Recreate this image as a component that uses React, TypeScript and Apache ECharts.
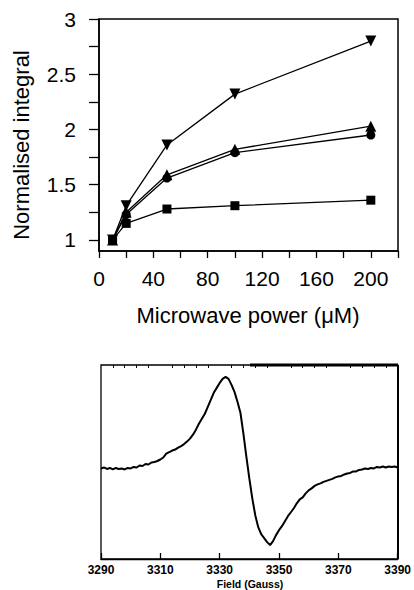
import React, { useEffect, useRef } from "react";
import * as echarts from "echarts";

// ---- Top chart data ----
const powerX = [10, 20, 50, 100, 200];
const downTriangles = [1.0, 1.31, 1.86, 2.32, 2.8];
const upTriangles = [1.0, 1.25, 1.59, 1.82, 2.03];
const circles = [1.0, 1.23, 1.56, 1.79, 1.95];
const squares = [1.0, 1.15, 1.28, 1.31, 1.36];

const powerTickValues = [0, 20, 40, 60, 80, 100, 120, 140, 160, 180, 200, 220];
const powerLabelValues = [0, 40, 80, 120, 160, 200];
const integralTickValues = [1, 1.25, 1.5, 1.75, 2, 2.25, 2.5, 2.75, 3];
const integralLabelValues = [1, 1.5, 2, 2.5, 3];

// ---- Bottom chart (EPR spectrum) data ----
const fieldGauss = [
  3290, 3291, 3292, 3293, 3294, 3295, 3296, 3297, 3298, 3299,
  3300, 3301, 3302, 3303, 3304, 3305, 3306, 3307, 3308, 3309,
  3310, 3311, 3312, 3313, 3314, 3315, 3316, 3317, 3318, 3319,
  3320, 3321, 3322, 3323, 3324, 3325, 3326, 3327, 3328, 3329,
  3330, 3331, 3332, 3333, 3334, 3335, 3336, 3337, 3338, 3339,
  3340, 3341, 3342, 3343, 3344, 3345, 3346, 3347, 3348, 3349,
  3350, 3351, 3352, 3353, 3354, 3355, 3356, 3357, 3358, 3359,
  3360, 3361, 3362, 3363, 3364, 3365, 3366, 3367, 3368, 3369,
  3370, 3371, 3372, 3373, 3374, 3375, 3376, 3377, 3378, 3379,
  3380, 3381, 3382, 3383, 3384, 3385, 3386, 3387, 3388, 3389, 3390,
];
const signal = [
  0, 1, -0.5, 0.5, -1, 0.5, -0.5, 0, -1, 0.5,
  0, 1.5, 1, 3, 2.5, 4.5, 4, 6, 6.5, 7.5,
  9, 11, 15, 16.5, 18, 19, 21, 22.5, 24.5, 27,
  30, 34, 39, 45, 50, 55, 62, 69, 76, 81,
  86, 90, 92, 90, 84, 77, 67, 56, 35, 12,
  -10, -30, -47, -59, -66, -70, -74, -77, -73, -67,
  -62, -58, -53, -48, -44, -40, -35, -31, -29, -25,
  -22, -20, -17.5, -16, -15, -13.5, -12.5, -11.5, -10.5, -9,
  -8, -7.5, -6, -5, -4.5, -3, -3, -1.5, -1, 0,
  -0.5, 0.5, 0, 1.5, 1, 2, 1, 2, 1.5, 2, 1,
];
const fieldLabelValues = [3290, 3310, 3330, 3350, 3370, 3390];
const fieldMinorTickValues = [
  3294, 3298, 3302, 3306, 3314, 3318, 3322, 3326, 3334, 3338, 3342, 3346,
  3354, 3358, 3362, 3366, 3374, 3378, 3382, 3386,
];

const FONT = "'Liberation Sans', Arial, Helvetica, sans-serif";
const plain = (v: number) => String(v);

export default function App() {
  const ref = useRef<HTMLDivElement>(null);

  useEffect(() => {
    if (!ref.current) return;
    const chart = echarts.init(ref.current, null, { renderer: "svg" });

    const lineSeries = (
      data: number[],
      symbol: string,
      size: number,
      rotate = 0
    ) => ({
      type: "line",
      xAxisIndex: 0,
      yAxisIndex: 0,
      data: powerX.map((x, i) => [x, data[i]]),
      symbol,
      symbolSize: size,
      symbolRotate: rotate,
      showSymbol: true,
      lineStyle: { color: "#000", width: 1.3 },
      itemStyle: { color: "#000", borderWidth: 0 },
      z: 3,
    });

    chart.setOption({
      animation: false,
      backgroundColor: "#fff",
      grid: [
        {
          left: 99,
          top: 19,
          width: 299,
          height: 232,
          show: true,
          borderColor: "#000",
          borderWidth: 1.5,
          backgroundColor: "transparent",
        },
        {
          left: 101,
          top: 365,
          width: 297,
          height: 194,
          show: true,
          borderColor: "#000",
          borderWidth: 1.3,
          backgroundColor: "transparent",
        },
      ],
      xAxis: [
        {
          type: "value",
          gridIndex: 0,
          min: 0,
          max: 220,
          axisLine: { show: true, onZero: false, lineStyle: { color: "#000", width: 1.5 } },
          axisTick: {
            show: true,
            inside: false,
            length: 7,
            customValues: powerTickValues,
            lineStyle: { color: "#000", width: 1.3 },
          },
          axisLabel: {
            customValues: powerLabelValues,
            formatter: plain,
            color: "#000",
            fontSize: 21,
            fontFamily: FONT,
            margin: 17,
          },
          splitLine: { show: false },
        },
        {
          type: "value",
          gridIndex: 1,
          min: 3290,
          max: 3390,
          axisLine: { show: true, onZero: false, lineStyle: { color: "#000", width: 1.3 } },
          axisTick: {
            show: true,
            inside: true,
            length: 6,
            customValues: fieldLabelValues,
            lineStyle: { color: "#000", width: 1.3 },
          },
          axisLabel: {
            customValues: fieldLabelValues,
            formatter: plain,
            color: "#000",
            fontSize: 12,
            fontWeight: "bold",
            fontFamily: FONT,
            margin: 5,
          },
          splitLine: { show: false },
        },
        {
          type: "value",
          gridIndex: 1,
          min: 3290,
          max: 3390,
          axisLine: { show: false, onZero: false },
          axisTick: {
            show: true,
            inside: true,
            length: 3,
            customValues: fieldMinorTickValues,
            lineStyle: { color: "#000", width: 1 },
          },
          axisLabel: { show: false },
          splitLine: { show: false },
        },
      ],
      yAxis: [
        {
          type: "value",
          gridIndex: 0,
          min: 0.9,
          max: 3,
          axisLine: { show: true, onZero: false, lineStyle: { color: "#000", width: 1.5 } },
          axisTick: {
            show: true,
            inside: false,
            length: 10,
            customValues: integralTickValues,
            lineStyle: { color: "#000", width: 1.3 },
          },
          axisLabel: {
            customValues: integralLabelValues,
            formatter: plain,
            color: "#000",
            fontSize: 21,
            fontFamily: FONT,
            margin: 23,
          },
          splitLine: { show: false },
        },
        {
          type: "value",
          gridIndex: 1,
          min: -91,
          max: 104,
          show: false,
          axisLine: { show: false, onZero: false },
          splitLine: { show: false },
        },
      ],
      graphic: [
        {
          type: "text",
          x: 21,
          y: 145,
          rotation: Math.PI / 2,
          style: {
            text: "Normalised integral",
            font: `22px ${FONT}`,
            fill: "#000",
            align: "center",
            verticalAlign: "middle",
          },
        },
        {
          type: "text",
          x: 248,
          y: 315,
          style: {
            text: "Microwave power (\u03BCM)",
            font: `22px ${FONT}`,
            fill: "#000",
            align: "center",
            verticalAlign: "middle",
          },
        },
        {
          type: "text",
          x: 250,
          y: 584,
          style: {
            text: "Field (Gauss)",
            font: `bold 10.5px ${FONT}`,
            fill: "#000",
            align: "center",
            verticalAlign: "middle",
          },
        },
        {
          type: "line",
          shape: { x1: 250, y1: 365, x2: 398, y2: 365 },
          style: { stroke: "#000", lineWidth: 3 },
          z: 10,
        },
        {
          type: "line",
          shape: { x1: 398, y1: 365, x2: 398, y2: 559 },
          style: { stroke: "#000", lineWidth: 2 },
          z: 10,
        },
      ],
      series: [
        lineSeries(squares, "rect", 9),
        lineSeries(circles, "circle", 9),
        lineSeries(upTriangles, "triangle", 11),
        lineSeries(downTriangles, "triangle", 11, 180),
        {
          type: "line",
          xAxisIndex: 1,
          yAxisIndex: 1,
          data: fieldGauss.map((f, i) => [f, signal[i]]),
          showSymbol: false,
          symbol: "none",
          lineStyle: { color: "#000", width: 2 },
          z: 3,
        },
      ],
    });

    return () => chart.dispose();
  }, []);

  return (
    <div
      ref={ref}
      style={{ position: "fixed", left: 0, top: 0, width: 414, height: 590 }}
    />
  );
}
